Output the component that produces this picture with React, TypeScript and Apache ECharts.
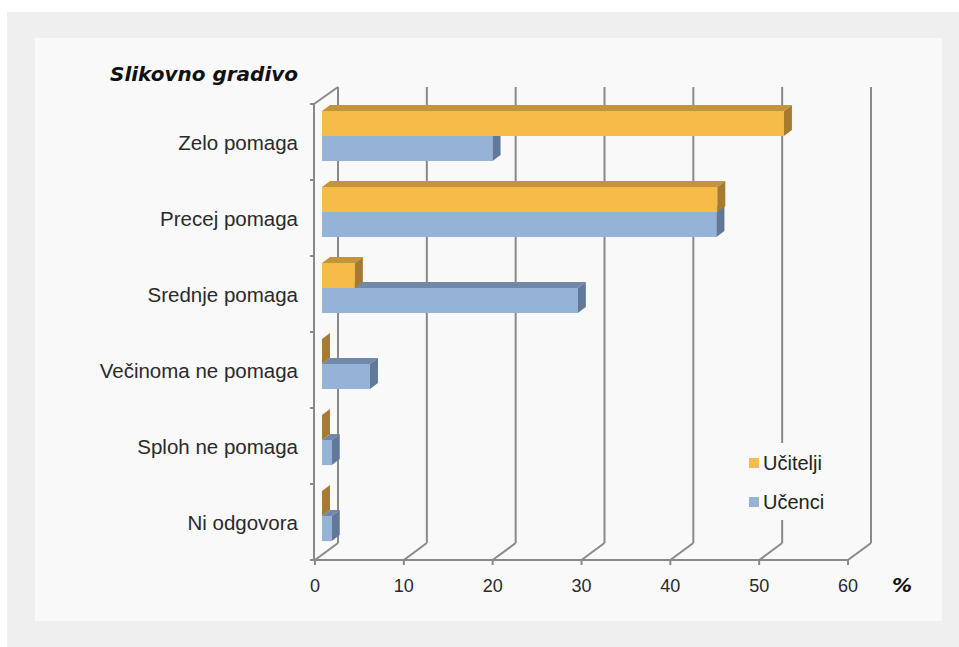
import React, { useEffect, useRef } from "react";
import * as echarts from "echarts";

const CATEGORIES = [
  "Zelo pomaga",
  "Precej pomaga",
  "Srednje pomaga",
  "Večinoma ne pomaga",
  "Sploh ne pomaga",
  "Ni odgovora",
];
const UCITELJI = [52.0, 44.5, 3.7, 0, 0, 0];
const UCENCI = [19.2, 44.4, 28.8, 5.4, 1.1, 1.1];
const X_TICKS = [0, 10, 20, 30, 40, 50, 60];
const TITLE = "Slikovno gradivo";
const UNIT = "%";

const GRID_COLOR = "#898989";
const WALL_DX = 23;
const WALL_DY = -17;
const BAR_OFF_X = 7;
const BAR_OFF_Y = -6;
const BAR_DX = 8;
const BAR_DY = -6;

const FONT = "'Liberation Sans', Arial, sans-serif";

function barRenderer(upper: boolean, colors: { front: string; top: string; side: string }) {
  return (params: any, api: any) => {
    const cat = api.value(0);
    const v = api.value(1);
    const p0 = api.coord([0, cat]);
    const p1 = api.coord([v, cat]);
    const band = api.size([0, 1])[1];
    const h = band * 0.33;
    const xL = p0[0] + BAR_OFF_X;
    const xR = p1[0] + BAR_OFF_X;
    const yc = p0[1] + BAR_OFF_Y;
    const yT = upper ? yc - h : yc;
    const yB = yT + h;
    return {
      type: "group",
      children: [
        {
          type: "rect",
          shape: { x: xL, y: yT, width: Math.max(0, xR - xL), height: h },
          style: { fill: colors.front },
        },
        {
          type: "polygon",
          shape: {
            points: [
              [xL, yT],
              [xL + BAR_DX, yT + BAR_DY],
              [xR + BAR_DX, yT + BAR_DY],
              [xR, yT],
            ],
          },
          style: { fill: colors.top },
        },
        {
          type: "polygon",
          shape: {
            points: [
              [xR, yT],
              [xR + BAR_DX, yT + BAR_DY],
              [xR + BAR_DX, yB + BAR_DY],
              [xR, yB],
            ],
          },
          style: { fill: colors.side },
        },
      ],
    };
  };
}

function wallRenderer(params: any, api: any) {
  const band = api.size([0, 1])[1];
  const x0 = api.coord([0, 0])[0];
  const yTop = api.coord([0, 0])[1] - band / 2;
  const yBot = api.coord([0, CATEGORIES.length - 1])[1] + band / 2;
  const xMax = api.coord([X_TICKS[X_TICKS.length - 1], 0])[0];
  const ls = { stroke: GRID_COLOR, lineWidth: 2 };
  const children: any[] = [];
  const line = (a: number, b: number, c: number, d: number) =>
    children.push({ type: "line", shape: { x1: a, y1: b, x2: c, y2: d }, style: ls });
  X_TICKS.forEach((t) => {
    const x = api.coord([t, 0])[0];
    line(x, yBot, x + WALL_DX, yBot + WALL_DY);
    line(x + WALL_DX, yBot + WALL_DY, x + WALL_DX, yTop + WALL_DY);
    line(x, yBot, x, yBot + 5);
  });
  line(x0 - 5, yBot, xMax, yBot);
  line(x0 - 1, yTop, x0 - 1, yBot);
  line(x0 - 1, yTop, x0 + WALL_DX, yTop + WALL_DY);
  for (let i = 0; i <= CATEGORIES.length; i++) {
    const y = yTop + i * band;
    line(x0 - 5, y, x0 - 1, y);
  }
  return { type: "group", children };
}

export default function App() {
  const ref = useRef<HTMLDivElement>(null);
  useEffect(() => {
    if (!ref.current) return;
    const chart = echarts.init(ref.current, undefined, { renderer: "svg" });
    chart.setOption({
      animation: false,
      grid: { left: 315, right: 111, top: 104, bottom: 87 },
      xAxis: {
        type: "value",
        min: 0,
        max: 60,
        interval: 10,
        axisLine: { show: false },
        axisTick: { show: false },
        splitLine: { show: false },
        axisLabel: { fontSize: 18, color: "#2a2a2a", fontFamily: FONT, margin: 17 },
      },
      yAxis: {
        type: "category",
        data: CATEGORIES,
        inverse: true,
        axisLine: { show: false },
        axisTick: { show: false },
        splitLine: { show: false },
        axisLabel: { fontSize: 20.5, color: "#2a2a2a", fontFamily: FONT, margin: 17 },
      },
      legend: {
        data: ["Učitelji", "Učenci"],
        orient: "vertical",
        left: 739,
        top: 443,
        padding: [10, 10, 8, 10],
        itemGap: 19,
        itemWidth: 10,
        itemHeight: 10,
        icon: "rect",
        backgroundColor: "#f9f9f9",
        textStyle: { fontSize: 20, color: "#222", fontFamily: FONT, padding: [0, 0, 0, -1] },
      },
      graphic: [
        {
          type: "text",
          left: 110,
          top: 64,
          style: {
            text: TITLE,
            fontSize: 20,
            fontStyle: "italic",
            fontWeight: "bold",
            fontFamily: "'DejaVu Sans', sans-serif",
            fill: "#111",
          },
        },
        {
          type: "text",
          left: 892,
          top: 575,
          style: {
            text: UNIT,
            fontSize: 20,
            fontStyle: "italic",
            fontWeight: "bold",
            fontFamily: "'DejaVu Sans', sans-serif",
            fill: "#111",
          },
        },
      ],
      series: [
        {
          type: "custom",
          name: "walls",
          silent: true,
          z: 1,
          data: [[0, 0]],
          renderItem: wallRenderer,
        },
        {
          type: "custom",
          name: "Učenci",
          z: 2,
          itemStyle: { color: "#95b3d7" },
          data: UCENCI.map((v, i) => [i, v]),
          encode: { x: 1, y: 0 },
          renderItem: barRenderer(false, { front: "#95b3d7", top: "#7089aa", side: "#62789a" }),
        },
        {
          type: "custom",
          name: "Učitelji",
          z: 3,
          itemStyle: { color: "#f7bb48" },
          data: UCITELJI.map((v, i) => [i, v]),
          encode: { x: 1, y: 0 },
          renderItem: barRenderer(true, { front: "#f7bb48", top: "#c4943a", side: "#a77b2f" }),
        },
      ],
    });
    return () => chart.dispose();
  }, []);
  return (
    <div style={{ position: "fixed", left: 0, top: 0, width: 959, height: 647, background: "#fff" }}>
      <div style={{ position: "absolute", left: 7, top: 12, width: 952, height: 635, background: "#efefef" }} />
      <div style={{ position: "absolute", left: 35, top: 38, width: 907, height: 583, background: "#f9f9f9" }} />
      <div ref={ref} style={{ position: "absolute", left: 0, top: 0, width: 959, height: 647 }} />
    </div>
  );
}
